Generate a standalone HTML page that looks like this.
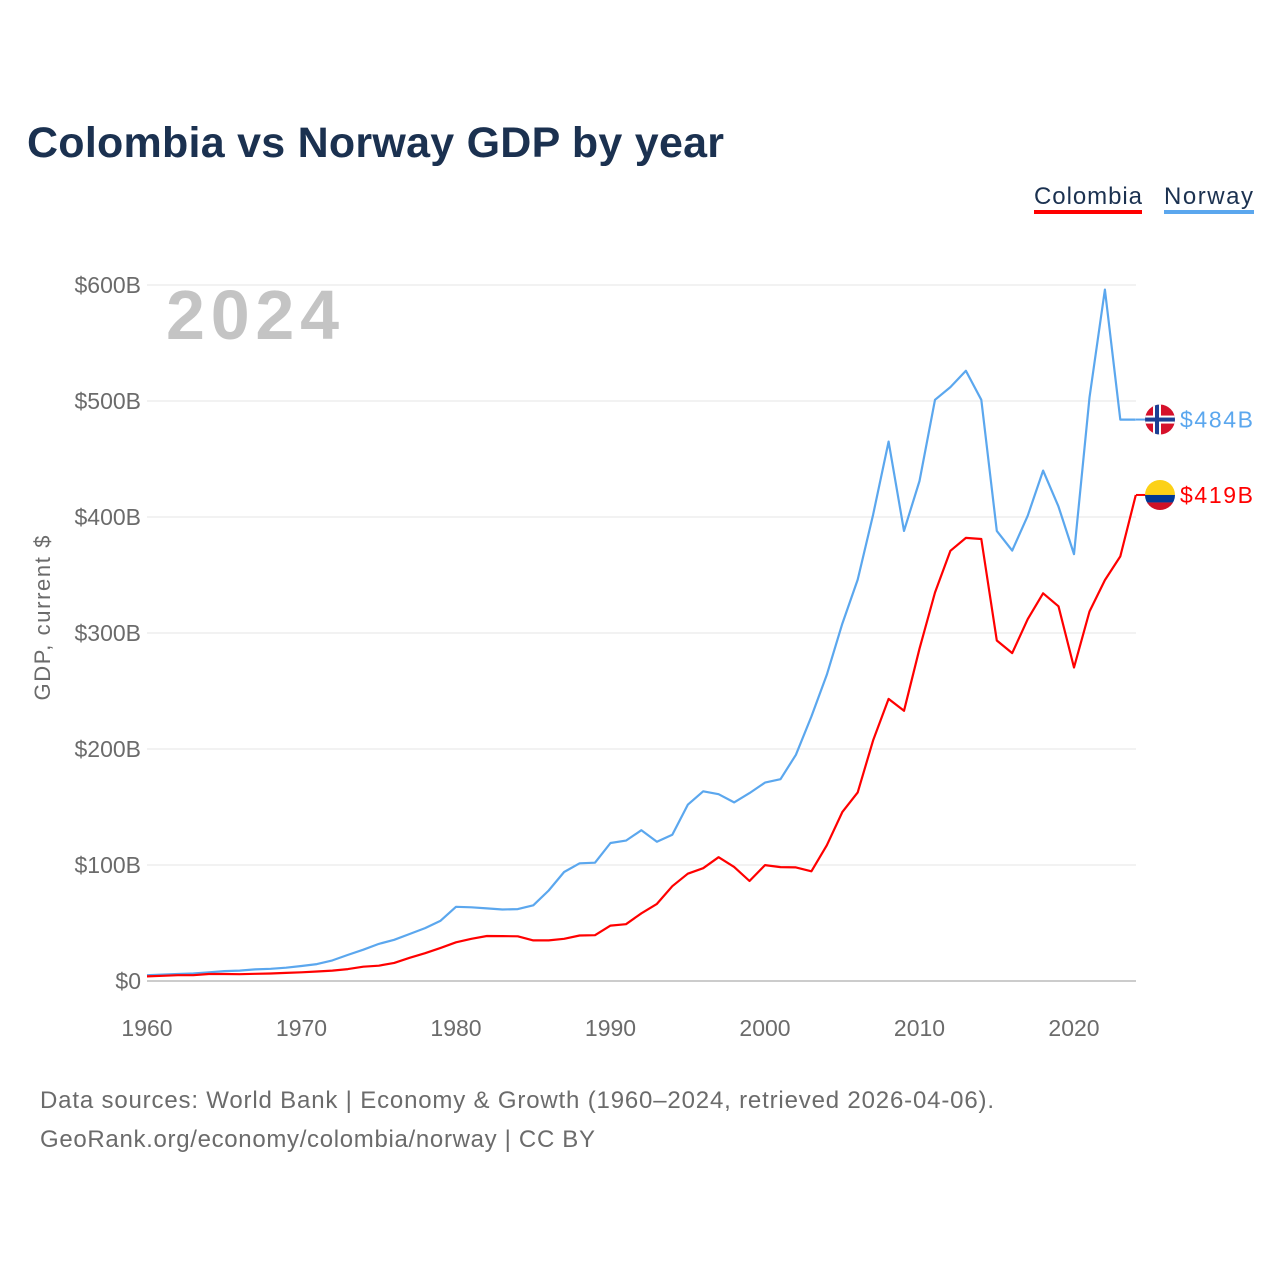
<!DOCTYPE html>
<html><head><meta charset="utf-8"><style>
body{margin:0;background:#fff;font-family:"Liberation Sans",sans-serif;}
svg text{font-family:"Liberation Sans",sans-serif;}
</style></head><body>
<svg id="chart" width="1280" height="1280" xmlns="http://www.w3.org/2000/svg">
<rect width="1280" height="1280" fill="#fff"/>
<text x="27" y="157" font-size="43" font-weight="bold" fill="#1b3150" textLength="697">Colombia vs Norway GDP by year</text>
<g>
<text x="1034" y="204" font-size="24" fill="#1b3150" textLength="108">Colombia</text>
<rect x="1034" y="210" width="108" height="4" fill="#ff0000"/>
<text x="1164" y="204" font-size="24" fill="#1b3150" textLength="89">Norway</text>
<rect x="1164" y="210" width="90" height="4" fill="#5ba7ee"/>
</g>
<text x="166" y="339" font-size="70" font-weight="bold" fill="#c4c4c4" textLength="173">2024</text>
<text transform="translate(50,618) rotate(-90)" text-anchor="middle" font-size="22" fill="#6b6b6b" textLength="165">GDP, current $</text>
<g id="grid"></g><g id="series"></g>
<text x="40" y="1108" font-size="24" fill="#6b6b6b" textLength="954">Data sources: World Bank | Economy &amp; Growth (1960–2024, retrieved 2026-04-06).</text>
<text x="40" y="1147" font-size="24" fill="#6b6b6b" textLength="555">GeoRank.org/economy/colombia/norway | CC BY</text>
</svg>
<script>
const years=[];for(let y=1960;y<=2024;y++)years.push(y);
const norway=[5,5.5,6,6.5,7.5,8.5,9,10,10.5,11.5,12.9,14.6,17.8,22.5,27,32,35.5,40.5,45.6,52,64,63.5,62.6,61.6,62,65.3,78,94,101.5,102,119,121,130,120,126,152,163.5,161,154,162,171,174,195,228,264,308,346,402,465,388,431,501,512,526,501,388,371,401,440,409,368,503,596,484,484];
const colombia=[4,4.5,5,5,6,6,5.9,6.2,6.5,7,7.5,8.2,9,10.3,12.3,13.2,15.6,20,24,28.5,33.4,36.4,38.8,38.7,38.5,35,35,36.4,39.2,39.5,47.8,49,58.4,66.5,81.7,92.5,97.2,106.7,98.4,86.2,99.9,98.2,97.9,94.6,117,145.6,162.6,207.4,243.2,232.9,286.5,334.9,370.9,382,381,293.5,282.7,311.9,334.2,323,270.3,318.5,345.6,366,419];
const yTicks=[0,100,200,300,400,500,600];
const yTickLabels=["$0","$100B","$200B","$300B","$400B","$500B","$600B"];
const xTicks=[1960,1970,1980,1990,2000,2010,2020];
const NS="http://www.w3.org/2000/svg";
const X=y=>147+(y-1960)*(1074-147)/60;
const Y=v=>981-v*(981-285)/600;
function el(t,a,p){const e=document.createElementNS(NS,t);for(const k in a)e.setAttribute(k,a[k]);p.appendChild(e);return e;}
const g=document.getElementById('grid');
yTicks.forEach((v,i)=>{
 const l=el('line',{x1:147,x2:1136,y1:Y(v),y2:Y(v),stroke:v===0?'#999':'#e6e6e6','stroke-width':1},g);
 
 
 const t=el('text',{x:141,y:Y(v)+8,'text-anchor':'end','font-size':23,fill:'#6b6b6b'},g);
 t.textContent=yTickLabels[i];
 
 
});
xTicks.forEach(v=>{
 const t=el('text',{x:X(v),y:1036,'text-anchor':'middle','font-size':23,fill:'#6b6b6b'},g);
 t.textContent=v;
 
 
});
const s=document.getElementById('series');
function line(data,color,name){
 const p=el('path',{d:data.map((v,i)=>(i?'L':'M')+X(years[i]).toFixed(1)+','+Y(v).toFixed(1)).join(''),fill:'none',stroke:color,'stroke-width':2.2,'stroke-linejoin':'round'},s);
 
 
}
line(norway,'#5ba7ee','norway');
line(colombia,'#ff0000','colombia');
const nl=norway[norway.length-1],cl=colombia[colombia.length-1];
const ny=Y(nl),cy=Y(cl);
el('line',{x1:1136,x2:1150,y1:ny,y2:ny,stroke:'#5ba7ee','stroke-width':2},s);
el('line',{x1:1136,x2:1150,y1:cy,y2:cy,stroke:'#ff0000','stroke-width':2},s);
const fn=el('g',{},s);


const cpn=el('clipPath',{id:'cn'},fn);el('circle',{cx:1160,cy:ny,r:15},cpn);
const fg=el('g',{'clip-path':'url(#cn)'},fn);
el('rect',{x:1145,y:ny-15,width:30,height:30,fill:'#d6112b'},fg);
el('rect',{x:1145,y:ny-4,width:30,height:8,fill:'#fff'},fg);
el('rect',{x:1153,y:ny-15,width:8,height:30,fill:'#fff'},fg);
el('rect',{x:1145,y:ny-2,width:30,height:4,fill:'#1c3f94'},fg);
el('rect',{x:1155,y:ny-15,width:4,height:30,fill:'#1c3f94'},fg);
const fc=el('g',{},s);


const cp=el('clipPath',{id:'cc'},fc);el('circle',{cx:1160,cy:cy,r:15},cp);
const cg=el('g',{'clip-path':'url(#cc)'},fc);
el('rect',{x:1145,y:cy-15,width:30,height:15,fill:'#fcd116'},cg);
el('rect',{x:1145,y:cy,width:30,height:7.5,fill:'#003893'},cg);
el('rect',{x:1145,y:cy+7.5,width:30,height:8,fill:'#ce1126'},cg);
const tn=el('text',{x:1180,y:ny+8,'font-size':23,fill:'#5ba7ee',textLength:73},s);tn.textContent='$'+nl+'B';


const tc=el('text',{x:1180,y:cy+8,'font-size':23,fill:'#ff0000',textLength:73},s);tc.textContent='$'+cl+'B';


</script>
</body></html>
